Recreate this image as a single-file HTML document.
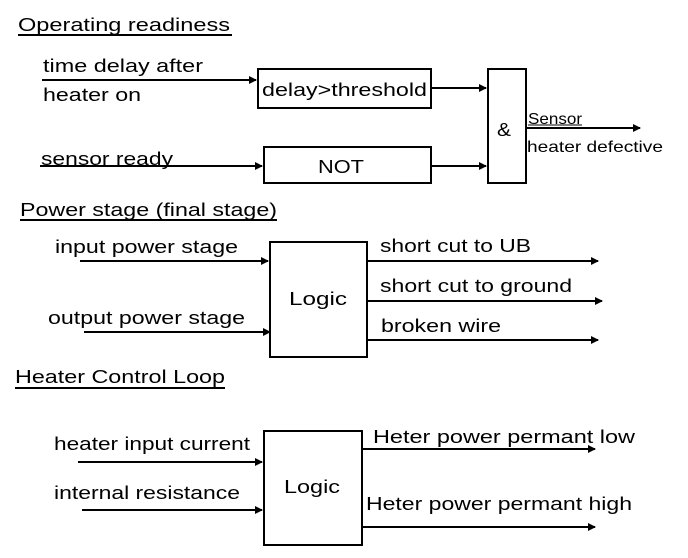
<!DOCTYPE html>
<html><head><style>html,body{margin:0;padding:0;background:#fff}svg{display:block}text{font-family:"Liberation Sans",Arial,sans-serif;font-size:18px;fill:#000}</style></head><body>
<svg width="688" height="558" viewBox="0 0 688 558">
<defs><marker id="a" markerWidth="8" markerHeight="8" refX="7" refY="4" orient="auto" markerUnits="userSpaceOnUse"><path d="M0,0 L8,4 L0,8 z" fill="#000"/></marker></defs>
<g stroke="#000" stroke-width="2" fill="none">
<!-- top -->
<rect x="258" y="69" width="173" height="39"/>
<rect x="264" y="147" width="167" height="36"/>
<rect x="488" y="69" width="38" height="114"/>
<line x1="42" y1="80" x2="256" y2="80" marker-end="url(#a)"/>
<line x1="40" y1="166" x2="262" y2="166" marker-end="url(#a)"/>
<line x1="431" y1="88" x2="486" y2="88" marker-end="url(#a)"/>
<line x1="431" y1="166" x2="486" y2="166" marker-end="url(#a)"/>
<line x1="526" y1="128" x2="640" y2="128" marker-end="url(#a)"/>
<line x1="18" y1="35" x2="232" y2="35"/>
<!-- middle -->
<line x1="20" y1="220" x2="277" y2="220"/>
<rect x="270" y="242" width="97" height="115"/>
<line x1="80" y1="261" x2="268" y2="261" marker-end="url(#a)"/>
<line x1="84" y1="332" x2="270" y2="332" marker-end="url(#a)"/>
<line x1="367" y1="261" x2="598" y2="261" marker-end="url(#a)"/>
<line x1="367" y1="301" x2="602" y2="301" marker-end="url(#a)"/>
<line x1="367" y1="340" x2="598" y2="340" marker-end="url(#a)"/>
<!-- bottom -->
<line x1="15" y1="388" x2="225" y2="388"/>
<rect x="264" y="431" width="98" height="114"/>
<line x1="78" y1="462" x2="262" y2="462" marker-end="url(#a)"/>
<line x1="82" y1="510" x2="262" y2="510" marker-end="url(#a)"/>
<line x1="362" y1="449" x2="595" y2="449" marker-end="url(#a)"/>
<line x1="362" y1="527" x2="595" y2="527" marker-end="url(#a)"/>
</g>
<line x1="528" y1="125" x2="582" y2="125" stroke="#000" stroke-width="1"/>
<line x1="40" y1="166" x2="200" y2="166" stroke="#000" stroke-width="1"/>
<text x="18" y="31" textLength="212" lengthAdjust="spacingAndGlyphs">Operating readiness</text>
<text x="43" y="72" textLength="160" lengthAdjust="spacingAndGlyphs">time delay after</text>
<text x="43" y="101" textLength="98" lengthAdjust="spacingAndGlyphs">heater on</text>
<text x="262" y="96" textLength="165" lengthAdjust="spacingAndGlyphs">delay&gt;threshold</text>
<text x="41" y="165" textLength="132" lengthAdjust="spacingAndGlyphs">sensor ready</text>
<text x="318" y="173" textLength="46" lengthAdjust="spacingAndGlyphs">NOT</text>
<text x="497" y="136" textLength="14" lengthAdjust="spacingAndGlyphs">&amp;</text>
<text x="528" y="124" textLength="54" lengthAdjust="spacingAndGlyphs" style="font-size:16px">Sensor</text>
<text x="527" y="152" textLength="136" lengthAdjust="spacingAndGlyphs" style="font-size:16px">heater defective</text>
<text x="20" y="216" textLength="257" lengthAdjust="spacingAndGlyphs">Power stage (final stage)</text>
<text x="55" y="253" textLength="183" lengthAdjust="spacingAndGlyphs">input power stage</text>
<text x="48" y="324" textLength="197" lengthAdjust="spacingAndGlyphs">output power stage</text>
<text x="289" y="305" textLength="58" lengthAdjust="spacingAndGlyphs">Logic</text>
<text x="380" y="252" textLength="151" lengthAdjust="spacingAndGlyphs">short cut to UB</text>
<text x="380" y="292" textLength="192" lengthAdjust="spacingAndGlyphs">short cut to ground</text>
<text x="381" y="332" textLength="120" lengthAdjust="spacingAndGlyphs">broken wire</text>
<text x="15" y="383" textLength="210" lengthAdjust="spacingAndGlyphs">Heater Control Loop</text>
<text x="54" y="450" textLength="196" lengthAdjust="spacingAndGlyphs">heater input current</text>
<text x="54" y="499" textLength="186" lengthAdjust="spacingAndGlyphs">internal resistance</text>
<text x="284" y="493" textLength="56" lengthAdjust="spacingAndGlyphs">Logic</text>
<text x="373" y="443" textLength="262" lengthAdjust="spacingAndGlyphs">Heter power permant low</text>
<text x="366" y="510" textLength="266" lengthAdjust="spacingAndGlyphs">Heter power permant high</text>
</svg>
</body></html>
